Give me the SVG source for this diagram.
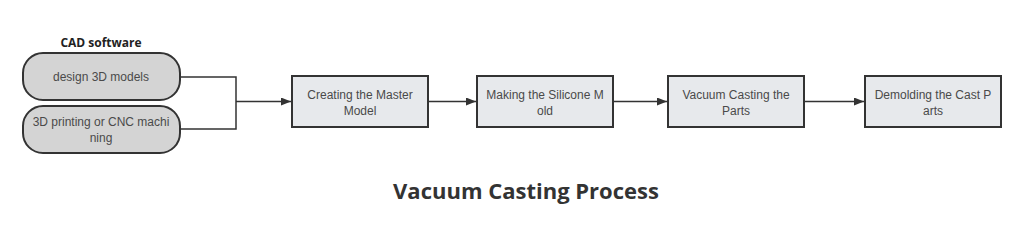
<svg xmlns="http://www.w3.org/2000/svg" width="1024" height="232" viewBox="0 0 1024 232">
<defs>
<style>
.pill{fill:#d4d4d4;stroke:#333;stroke-width:2}
.box{fill:#e7e9ec;stroke:#333;stroke-width:2}
.t{font-family:"Liberation Sans",Arial,sans-serif;font-size:12px;fill:#4a4a4a;text-anchor:middle}
.c{fill:none;stroke:#333;stroke-width:1.5}
</style>
<marker id="ah" markerWidth="10" markerHeight="8" refX="10" refY="4" orient="auto" markerUnits="userSpaceOnUse">
<path d="M0,0 L10,4 L0,8 Z" fill="#333"/>
</marker>
</defs>
<rect width="1024" height="232" fill="#fff"/>
<text x="101" y="47" font-family="'Open Sans','Liberation Sans',sans-serif" font-weight="bold" font-size="12" fill="#222" text-anchor="middle">CAD software</text>
<g id="n1"><rect class="pill" x="23" y="53" width="157" height="47" rx="20"/><text class="t" x="101" y="81">design 3D models</text></g>
<g id="n2"><rect class="pill" x="23" y="106" width="157" height="47" rx="20"/><text class="t" x="101" y="126">3D printing or CNC machi</text><text class="t" x="101" y="142">ning</text></g>
<g id="n3"><rect class="box" x="292" y="76" width="136" height="51"/><text class="t" x="360" y="99">Creating the Master</text><text class="t" x="360" y="115">Model</text></g>
<g id="n4"><rect class="box" x="477" y="76" width="136" height="51"/><text class="t" x="545" y="99">Making the Silicone M</text><text class="t" x="545" y="115">old</text></g>
<g id="n5"><rect class="box" x="668" y="76" width="136" height="51"/><text class="t" x="736" y="99">Vacuum Casting the</text><text class="t" x="736" y="115">Parts</text></g>
<g id="n6"><rect class="box" x="865" y="76" width="136" height="51"/><text class="t" x="933" y="99">Demolding the Cast P</text><text class="t" x="933" y="115">arts</text></g>
<g id="connectors">
<path class="c" d="M180,77 H236 V129 H180"/>
<path class="c" d="M236,101.5 H291" marker-end="url(#ah)"/>
<path class="c" d="M428,101.5 H476" marker-end="url(#ah)"/>
<path class="c" d="M613,101.5 H667" marker-end="url(#ah)"/>
<path class="c" d="M804,101.5 H864" marker-end="url(#ah)"/>
</g>
<text x="526" y="199" font-family="'Open Sans','Liberation Sans',sans-serif" font-weight="bold" font-size="22" fill="#333" text-anchor="middle">Vacuum Casting Process</text>
</svg>
